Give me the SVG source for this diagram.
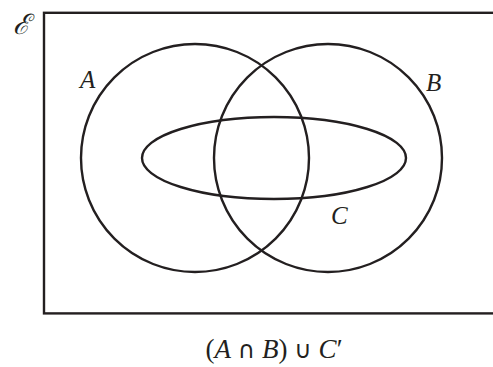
<svg xmlns="http://www.w3.org/2000/svg" width="493" height="367" viewBox="0 0 493 367">
<style>
.ln{fill:none;stroke:#231f20;stroke-width:2.4}
.lbl{font-family:"Liberation Serif","DejaVu Serif",serif;font-style:italic;font-size:25px;fill:#231f20}
.cap{font-family:"Liberation Serif","DejaVu Serif",serif;font-size:27px;fill:#231f20}
.op{font-family:"DejaVu Sans",sans-serif;font-size:24px}
</style>
<rect width="493" height="367" fill="#fff"/>
<g id="universe">
<rect class="ln" x="44" y="12.8" width="460" height="300.6" stroke-width="2.6"/>
<text x="13" y="34" style="font-family:'DejaVu Serif',serif;font-style:italic;font-size:28px;fill:#231f20">ℰ</text>
</g>
<g id="A">
<circle class="ln" cx="195" cy="158" r="114"/>
<text class="lbl" x="80" y="88">A</text>
</g>
<g id="B">
<circle class="ln" cx="328" cy="158" r="114"/>
<text class="lbl" x="426" y="91">B</text>
</g>
<g id="C">
<ellipse class="ln" cx="274" cy="158" rx="132" ry="41"/>
<text class="lbl" x="331" y="224">C</text>
</g>
<text class="cap" x="274" y="358" text-anchor="middle">(<tspan font-style="italic">A</tspan> <tspan class="op">∩</tspan> <tspan font-style="italic">B</tspan>) <tspan class="op">∪</tspan> <tspan font-style="italic">C</tspan>′</text>
</svg>
